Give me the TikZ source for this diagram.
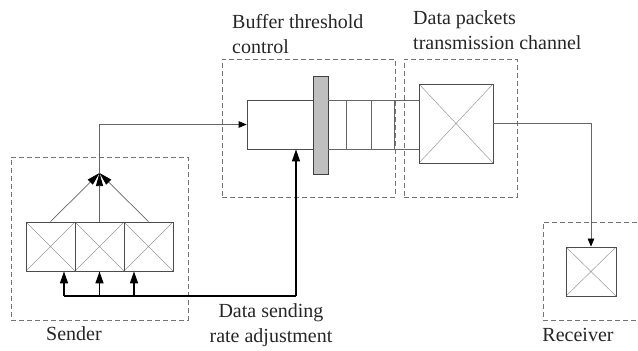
\documentclass[tikz,border=0pt]{standalone}
\usepackage{fontspec}
\setmainfont{Liberation Serif}
\newfontfamily\diagfont{Liberation Serif}
\usetikzlibrary{arrows.meta}
\begin{document}
\begin{tikzpicture}[x=1pt,y=-1pt,
  group/.style={draw=black!55, dash pattern=on 5pt off 3pt, line width=0.7pt, inner sep=0pt},
  xbox/.style={draw=black!70, line width=0.8pt, inner sep=0pt,
    path picture={\draw[black!40, line width=0.5pt]
      (path picture bounding box.north west) -- (path picture bounding box.south east)
      (path picture bounding box.north east) -- (path picture bounding box.south west);}},
  plainbox/.style={draw=black!70, line width=0.7pt, inner sep=0pt},
  lbl/.style={font=\diagfont\fontsize{20}{25}\selectfont, align=left, inner sep=0pt, text=black!85},
  conn/.style={draw=black!60, line width=0.7pt},
  tip/.style={-{Triangle[length=8pt,width=6.5pt,color=black,fill=black]}},
  hubtip/.style={-{Triangle[length=13pt,width=7pt,color=black,fill=black]}},
  fbtip/.style={-{Triangle[length=12pt,width=8pt,color=black,fill=black]}},
  fb/.style={draw=black, line width=1.4pt},
]
\clip (0,0) rectangle (638,351);
\useasboundingbox (0,0) rectangle (638,351);

% groups
\node[group, minimum width=177pt, minimum height=163pt] (gsend) at (99.5,238.5) {};
\node[group, minimum width=173pt, minimum height=138pt] (gbuf) at (308.5,128) {};
\node[group, minimum width=113pt, minimum height=138pt] (gchan) at (460.5,128) {};
\node[group, minimum width=110pt, minimum height=98pt] (grecv) at (598,271) {};

% sender boxes
\node[xbox, minimum width=49pt, minimum height=49pt] (s1) at (50.5,246.5) {};
\node[xbox, minimum width=49pt, minimum height=49pt] (s2) at (99.5,246.5) {};
\node[xbox, minimum width=49pt, minimum height=49pt] (s3) at (148.5,246.5) {};

% buffer
\node[plainbox, minimum width=66pt, minimum height=49pt] (buf) at (280,124.5) {};
\node[draw=black!75, fill=black!25, line width=0.8pt, inner sep=0pt, minimum width=15pt, minimum height=98pt] (bar) at (320.5,125) {};

% channel and receiver
\node[xbox, minimum width=74pt, minimum height=79pt] (chan) at (456,123.5) {};
\node[xbox, minimum width=50pt, minimum height=49pt] (recv) at (591,271.5) {};

% queue slots
\coordinate (qt) at (328,100);
\coordinate (qb) at (328,149);
\draw[conn] (qt) -- (qt -| chan.west);
\draw[conn] (qb) -- (qb -| chan.west);
\foreach \xx in {346,371,394} \draw[conn] (\xx,100) -- (\xx,149);

% sender to buffer
\coordinate (hub) at (99.5,173);
\draw[conn, hubtip] (s1.north) -- (hub);
\draw[conn, hubtip] (s3.north) -- (hub);
\draw[conn, hubtip] (s2.north) -- (hub);
\draw[conn, tip] (hub) -- (hub |- buf.west) -- (buf.west);

% channel to receiver
\draw[conn, tip] (chan.east) -- (chan.east -| recv.north) -- (recv.north);

% feedback
\coordinate (fbr) at (296,296);
\coordinate (fbl) at (64,296);
\coordinate (fbm) at (99.5,296);
\coordinate (fbn) at (134,296);
\draw[fb] (fbl) -- (fbr);
\draw[fb, fbtip] (fbr) -- (fbr |- buf.south);
\draw[fb, fbtip] (fbl) -- (fbl |- s1.south);
\draw[fb, fbtip] (fbm) -- (s2.south);
\draw[fb, fbtip] (fbn) -- (fbn |- s3.south);

% labels
\node[lbl, anchor=north west] (lbuf) at (232,14) {Buffer threshold\\control};
\node[lbl, anchor=north west] (lchan) at (413,10) {Data packets\\transmission channel};
\node[lbl, anchor=north] (lsend) at (74,326) {Sender};
\node[lbl, anchor=north, align=center] (lrate) at (271,303) {Data sending\\rate adjustment};
\node[lbl, anchor=north] (lrecv) at (578,328) {Receiver};
\end{tikzpicture}
\end{document}
